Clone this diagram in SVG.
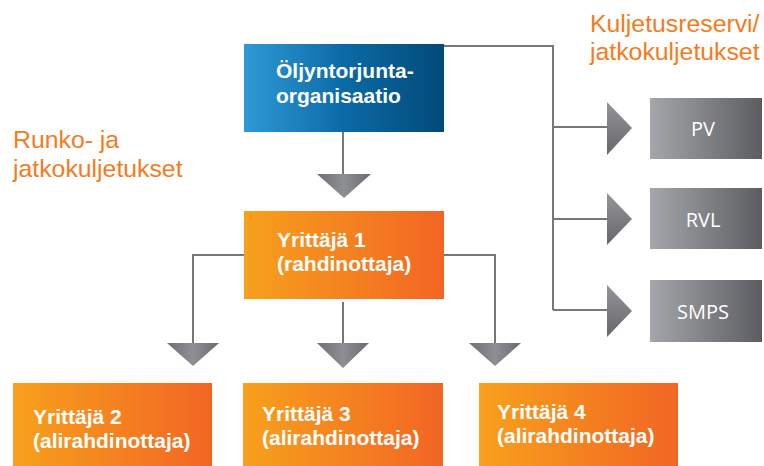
<svg xmlns="http://www.w3.org/2000/svg" width="764" height="466" viewBox="0 0 764 466">
<defs>
<linearGradient id="gBlue" x1="0" y1="0" x2="1" y2="0">
<stop offset="0" stop-color="#2f9ad6"/><stop offset="0.5" stop-color="#0b6aa6"/><stop offset="1" stop-color="#024a78"/>
</linearGradient>
<linearGradient id="gOrange" x1="0" y1="0" x2="1" y2="0">
<stop offset="0" stop-color="#f7a11c"/><stop offset="1" stop-color="#f26523"/>
</linearGradient>
<linearGradient id="gGray" x1="0" y1="0" x2="1" y2="0">
<stop offset="0" stop-color="#a5a6aa"/><stop offset="1" stop-color="#5c5d61"/>
</linearGradient>
<linearGradient id="gTriD" x1="0" y1="0" x2="1" y2="0">
<stop offset="0" stop-color="#6f7074"/><stop offset="0.5" stop-color="#8e8f93"/><stop offset="1" stop-color="#6a6b6f"/>
</linearGradient>
<linearGradient id="gTriR" x1="0" y1="0" x2="0" y2="1">
<stop offset="0" stop-color="#959599"/><stop offset="1" stop-color="#66676b"/>
</linearGradient>
<style>
.box-t{font-family:"Liberation Sans",Arial,sans-serif;font-weight:bold;font-size:21px;fill:#ffffff}
.gray-t{font-family:"Open Sans","Liberation Sans",sans-serif;font-size:20px;fill:#ffffff;text-anchor:middle}
.lbl{font-family:"Liberation Sans",Arial,sans-serif;font-size:24.8px;fill:#f47b20}
.ln{fill:none;stroke:#76777b;stroke-width:2}
.tri-d{fill:url(#gTriD)}
.tri-r{fill:url(#gTriR)}
</style>
</defs>

<g id="connectors">
<polyline class="ln" points="444,46 553,46 553,310"/>
<line class="ln" x1="553" y1="127" x2="609" y2="127"/>
<line class="ln" x1="553" y1="219" x2="609" y2="219"/>
<line class="ln" x1="553" y1="310" x2="609" y2="310"/>
<polygon class="tri-r" points="607,102 632,128 607,155"/>
<polygon class="tri-r" points="607,193 632,219 607,245"/>
<polygon class="tri-r" points="607,285 632,311 607,337"/>
<line class="ln" x1="343" y1="132" x2="343" y2="175"/>
<polygon class="tri-d" points="317,174 371,174 344,198"/>
<polyline class="ln" points="244,255 193,255 193,344"/>
<polygon class="tri-d" points="167,343 219,343 193,366"/>
<line class="ln" x1="343" y1="302" x2="343" y2="344"/>
<polygon class="tri-d" points="317,343 369,343 343,368"/>
<polyline class="ln" points="444,255 495,255 495,344"/>
<polygon class="tri-d" points="469,343 521,343 495,366"/>
</g>

<g id="oljyntorjunta">
<rect x="244" y="44" width="200" height="88" fill="url(#gBlue)"/>
<text class="box-t" x="276" y="78">Öljyntorjunta-</text>
<text class="box-t" x="276" y="103">organisaatio</text>
</g>

<g id="yrittaja1">
<rect x="244" y="211" width="200" height="88" fill="url(#gOrange)"/>
<text class="box-t" x="277" y="247">Yrittäjä 1</text>
<text class="box-t" x="277" y="271">(rahdinottaja)</text>
</g>

<g id="yrittaja2">
<rect x="13" y="383" width="199" height="83" fill="url(#gOrange)"/>
<text class="box-t" x="33" y="424">Yrittäjä 2</text>
<text class="box-t" x="33" y="448">(alirahdinottaja)</text>
</g>

<g id="yrittaja3">
<rect x="243" y="383" width="200" height="83" fill="url(#gOrange)"/>
<text class="box-t" x="262" y="421">Yrittäjä 3</text>
<text class="box-t" x="262" y="445">(alirahdinottaja)</text>
</g>

<g id="yrittaja4">
<rect x="479" y="383" width="199" height="83" fill="url(#gOrange)"/>
<text class="box-t" x="497" y="419">Yrittäjä 4</text>
<text class="box-t" x="497" y="443">(alirahdinottaja)</text>
</g>

<g id="pv">
<rect x="650" y="98" width="112" height="61" fill="url(#gGray)"/>
<text class="gray-t" x="703" y="136">PV</text>
</g>
<g id="rvl">
<rect x="650" y="188" width="112" height="61" fill="url(#gGray)"/>
<text class="gray-t" x="703" y="227">RVL</text>
</g>
<g id="smps">
<rect x="650" y="280" width="112" height="62" fill="url(#gGray)"/>
<text class="gray-t" x="703" y="319">SMPS</text>
</g>

<g id="labels">
<text class="lbl" x="590" y="32">Kuljetusreservi/</text>
<text class="lbl" x="590" y="60">jatkokuljetukset</text>
<text class="lbl" x="13" y="148">Runko- ja</text>
<text class="lbl" x="13" y="177">jatkokuljetukset</text>
</g>
</svg>
